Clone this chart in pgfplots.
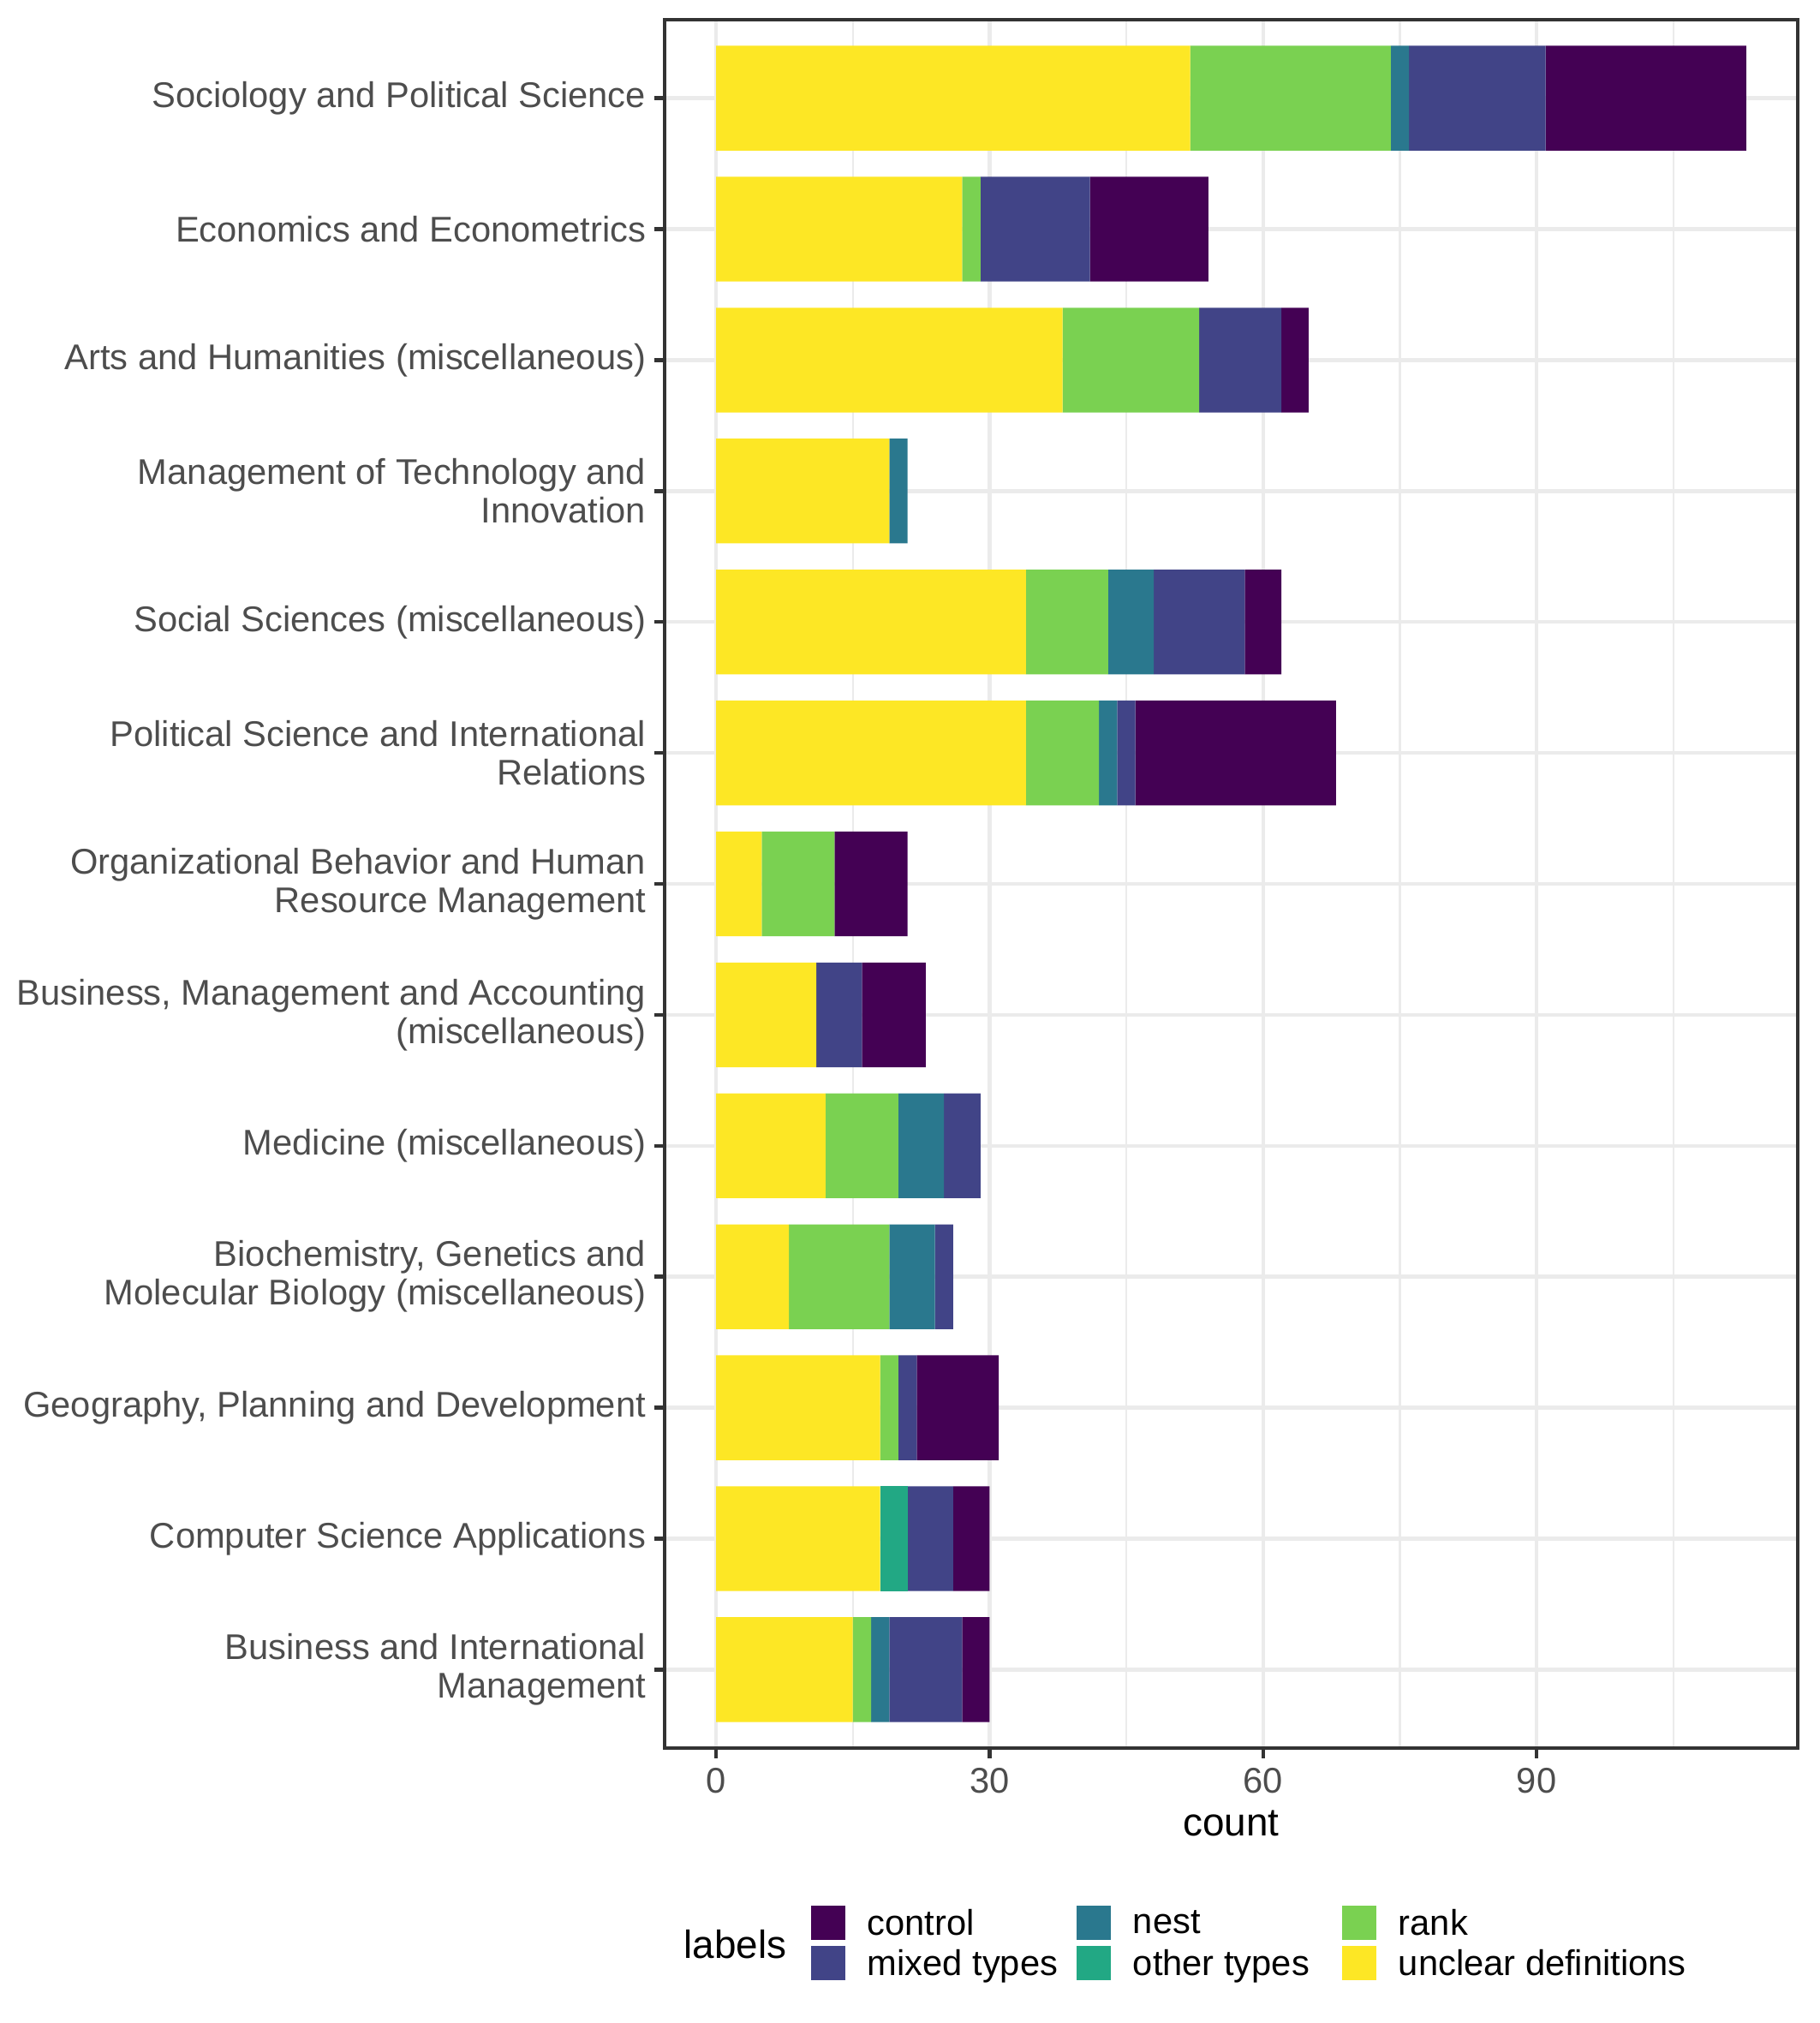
\documentclass[border=0pt]{standalone}
\usepackage{fontspec}
\setmainfont{Liberation Sans}
\usepackage{pgfplots}
\usepackage{pgfplotstable}
\pgfplotsset{compat=1.18}

\definecolor{cControl}{HTML}{440154}
\definecolor{cMixed}{HTML}{414487}
\definecolor{cNest}{HTML}{2A788E}
\definecolor{cOther}{HTML}{22A884}
\definecolor{cRank}{HTML}{7AD151}
\definecolor{cUnclear}{HTML}{FDE725}
\definecolor{gridgray}{HTML}{EBEBEB}
\definecolor{gray20}{HTML}{333333}
\definecolor{gray30}{HTML}{4D4D4D}

% y: 13 = top row
\pgfplotstableread{
y  unclear rank other nest mixed control
13 52      22   0     2    15    22
12 27      2    0     0    12    13
11 38      15   0     0    9     3
10 19      0    0     2    0     0
9  34      9    0     5    10    4
8  34      8    0     2    2     22
7  5       8    0     0    0     8
6  11      0    0     0    5     7
5  12      8    0     5    4     0
4  8       11   0     5    2     0
3  18      2    0     0    2     9
2  18      0    3     0    5     4
1  15      2    0     2    8     3
}\subjects

\pgfplotsset{
  keybox/.style={draw=none, fill=#1,
    legend image code/.code={\fill[#1] (0pt,-4.3pt) rectangle (9.6pt,5.3pt);}},
}

\begin{document}
\begin{tikzpicture}
\useasboundingbox (-186.2pt,-77pt) rectangle (323.7pt,489.8pt);
\begin{axis}[
  at={(0,0)}, anchor=south west,
  scale only axis, width=317.5pt, height=484.3pt,
  clip mode=individual,
  xbar stacked, bar width=0.8,
  xmin=-5.65, xmax=118.65, ymin=0.4, ymax=13.6,
  xtick={0,30,60,90}, minor xtick={15,45,75,105},
  ytick={1,...,13},
  yticklabels={
    {Business and International\\Management},
    {Computer Science Applications},
    {Geography, Planning and Development},
    {Biochemistry, Genetics and\\Molecular Biology (miscellaneous)},
    {Medicine (miscellaneous)},
    {Business, Management and Accounting\\(miscellaneous)},
    {Organizational Behavior and Human\\Resource Management},
    {Political Science and International\\Relations},
    {Social Sciences (miscellaneous)},
    {Management of Technology and\\Innovation},
    {Arts and Humanities (miscellaneous)},
    {Economics and Econometrics},
    {Sociology and Political Science}},
  tick align=outside, major tick length=2.75pt,
  xtick pos=bottom, ytick pos=left,
  tick style={gray20, line width=1.07pt},
  minor tick length=0pt,
  grid=both,
  major grid style={gridgray, line width=1.07pt},
  minor grid style={gridgray, line width=0.53pt},
  axis line style={gray20, line width=1.07pt},
  /pgf/number format/assume math mode=true,
  ticklabel style={text=gray30, inner sep=0pt},
  xticklabel style={font=\fontsize{10}{11}\selectfont, anchor=north, yshift=-2.55pt},
  yticklabel style={font=\fontsize{10}{10.8}\selectfont, anchor=east, align=right, xshift=-2.3pt},
  xlabel={count},
  xlabel style={font=\fontsize{11}{13}\selectfont, at={(0.5,-0.0436)}, anchor=center, inner sep=0pt},
  legend columns=3,
  legend cell align=left,
  legend style={draw=none, fill=none, at={(0.1285,-0.0907)}, anchor=north west,
    font=\fontsize{10}{11}\selectfont, inner sep=0pt, column sep=0pt, row sep=1.7pt,
    nodes={inner sep=0pt}},
]
\addplot[forget plot, draw=none, fill=cUnclear] table[x=unclear, y=y]{\subjects};
\addplot[forget plot, draw=none, fill=cRank] table[x=rank, y=y]{\subjects};
\addplot[forget plot, draw=none, fill=cOther] table[x=other, y=y]{\subjects};
\addplot[forget plot, draw=none, fill=cNest] table[x=nest, y=y]{\subjects};
\addplot[forget plot, draw=none, fill=cMixed] table[x=mixed, y=y]{\subjects};
\addplot[forget plot, draw=none, fill=cControl] table[x=control, y=y]{\subjects};

\addlegendimage{keybox=cControl}
\addlegendentry{\hspace{6.24pt}\makebox[58.56pt][l]{control}}
\addlegendimage{keybox=cNest}
\addlegendentry{\hspace{6.24pt}\makebox[58.56pt][l]{nest}}
\addlegendimage{keybox=cRank}
\addlegendentry{\hspace{6.24pt}rank}
\addlegendimage{keybox=cMixed}
\addlegendentry{\hspace{6.24pt}\makebox[58.56pt][l]{mixed types}}
\addlegendimage{keybox=cOther}
\addlegendentry{\hspace{6.24pt}\makebox[58.56pt][l]{other types}}
\addlegendimage{keybox=cUnclear}
\addlegendentry{\hspace{6.24pt}unclear definitions}

\node[anchor=west, inner sep=0pt, font=\fontsize{11}{13}\selectfont] at (axis description cs:0.0166,-0.1135) {labels};
\end{axis}
\end{tikzpicture}
\end{document}
